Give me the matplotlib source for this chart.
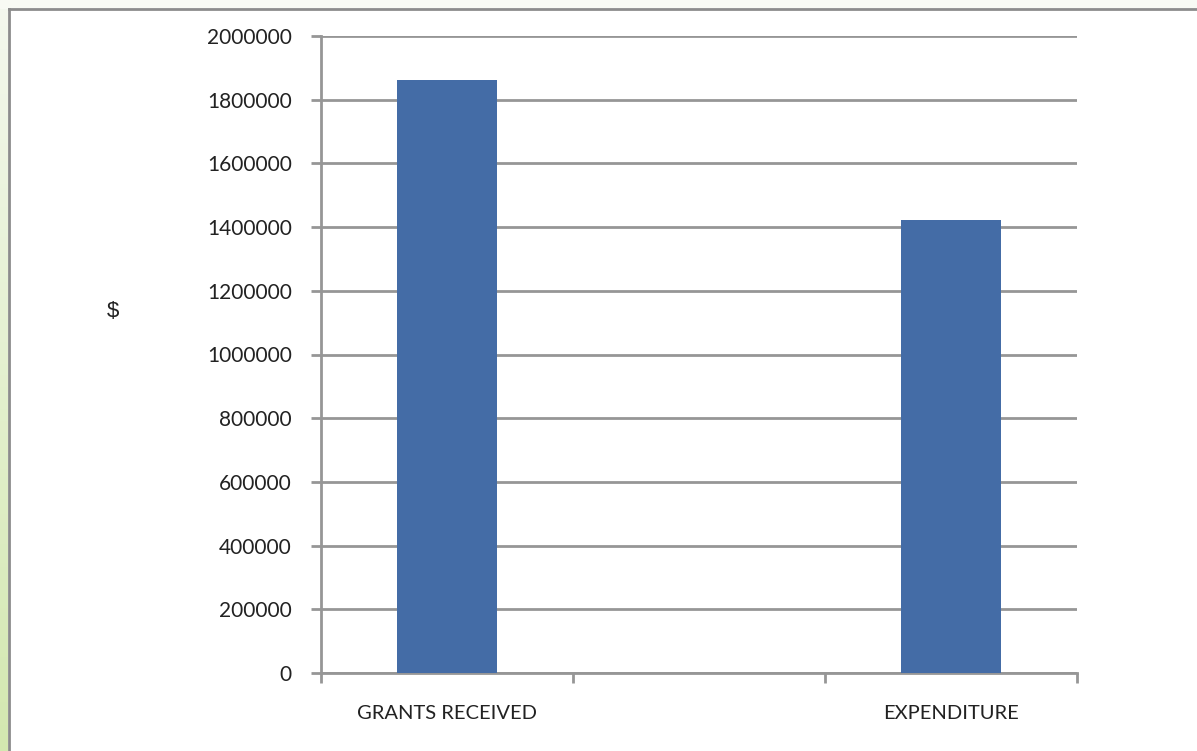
import numpy as np
import matplotlib.pyplot as plt
from matplotlib.lines import Line2D
from matplotlib.colors import LinearSegmentedColormap

# data
categories = ["GRANTS RECEIVED", "", "EXPENDITURE"]
amounts = [1863000, 0, 1422000]
yticks = [0, 200000, 400000, 600000, 800000, 1000000,
          1200000, 1400000, 1600000, 1800000, 2000000]

grid_col = '#969696'
bar_col = '#446ca6'

fig = plt.figure(figsize=(11.97, 7.51), dpi=100)

# light green strip on the left edge of the slide
strip = fig.add_axes([0, 0, 8 / 1197, 1])
grad = np.linspace(0, 1, 200).reshape(-1, 1)
cm = LinearSegmentedColormap.from_list('g', ['#f4f8ee', '#d3e8b0'])
strip.imshow(grad, aspect='auto', cmap=cm, extent=[0, 1, 0, 1], origin='upper')
strip.axis('off')
fig.patches.append(plt.Rectangle((0, 1 - 8 / 751), 1, 8 / 751, transform=fig.transFigure,
                                 color='#f8faf4', zorder=0))

# frame of the chart box
fig.add_artist(Line2D([8.5 / 1197, 8.5 / 1197], [0, 1 - 8.5 / 751], color='#8c8c8c', lw=2))
fig.add_artist(Line2D([8.5 / 1197, 1], [1 - 8.5 / 751, 1 - 8.5 / 751], color='#8c8c8c', lw=2))

ax = fig.add_axes([321 / 1197, 1 - 673 / 751, (1077 - 321) / 1197, (673 - 36) / 751])
x = np.arange(len(categories))
ax.bar(x, amounts, width=0.4, color=bar_col, zorder=3)

ax.set_xlim(-0.5, len(categories) - 0.5)
ax.set_ylim(0, 2000000)
ax.set_yticks(yticks)
ax.set_yticklabels([str(v) for v in yticks], fontsize=15, family='Lato', color='#222222')
ax.yaxis.grid(True, color=grid_col, lw=2)
ax.set_axisbelow(True)

ax.set_xticks(x)
ax.set_xticklabels(categories, fontsize=14.5, family='Lato', color='#222222')
ax.set_xticks(np.arange(-0.5, len(categories), 1), minor=True)
ax.tick_params(axis='x', which='major', length=0, pad=23)
ax.tick_params(axis='x', which='minor', length=7, width=2, color=grid_col, direction='out')
ax.tick_params(axis='y', length=7, width=2, color=grid_col, pad=14)

for s in ['top', 'right']:
    ax.spines[s].set_visible(False)
for s in ['left', 'bottom']:
    ax.spines[s].set_color(grid_col)
    ax.spines[s].set_linewidth(2)

fig.text(113 / 1197, 1 - 311 / 751, '$', fontsize=16, family='Liberation Sans',
         ha='center', va='center', color='#222222')

fig.savefig('out.png', dpi=100)
